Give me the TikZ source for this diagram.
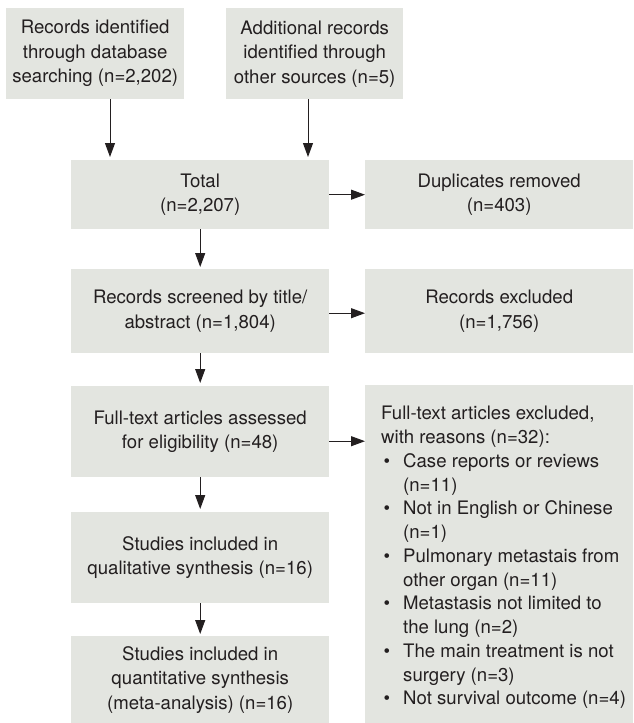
\documentclass[tikz,border=0pt]{standalone}
\usepackage{fontspec}
\setmainfont{TeX Gyre Heros}
\usetikzlibrary{arrows.meta}
\definecolor{boxfill}{HTML}{E3E5E0}
\definecolor{ink}{HTML}{231F20}
\newcommand{\pbul}{\makebox[22pt][l]{\hspace{2.5pt}\textbullet}}
\newcommand{\pind}{\hspace*{22pt}}
\begin{document}
\begin{tikzpicture}[x=1pt,y=-1pt,
  box/.style={fill=boxfill, draw=none, inner sep=0pt, align=center, text=ink,
              font=\fontsize{18.6}{24.5}\selectfont, anchor=north west},
  arr/.style={draw=ink, line width=1pt, -{Triangle[length=14pt,width=10pt]}},
]
\useasboundingbox (0,0) rectangle (633,723);
\node[box, minimum width=178pt, minimum height=91pt] (b1) at (6,8) {Records identified\\through database\\searching (n=2,202)};
\node[box, minimum width=177pt, minimum height=91pt] (b2) at (226,8) {Additional records\\identified through\\other sources (n=5)};
\node[box, minimum width=258pt, minimum height=69pt] (total) at (71,160) {Total\\(n=2,207)};
\node[box, minimum width=268pt, minimum height=69pt] (dup) at (365,160) {Duplicates removed\\(n=403)};
\node[box, minimum width=258pt, minimum height=84pt] (screen) at (71,269) {Records screened by title/\\abstract (n=1,804)};
\node[box, minimum width=268pt, minimum height=84pt] (rexcl) at (365,269) {Records excluded\\(n=1,756)};
\node[box, minimum width=258pt, minimum height=91pt] (full) at (71,386) {Full-text articles assessed\\for eligibility (n=48)};
\node[box, minimum width=268pt, minimum height=338pt] (fexcl) at (365,385) {};
\node[box, minimum width=258pt, minimum height=91pt] (qual) at (71,512) {Studies included in\\qualitative synthesis (n=16)};
\node[box, minimum width=258pt, minimum height=87pt] (quant) at (71,636) {Studies included in\\quantitative synthesis\\(meta-analysis) (n=16)};
\node[anchor=north west, inner sep=0pt, align=left, text=ink,
      font=\fontsize{18.6}{23.75}\selectfont] (fexcltext) at (381,406)
  {Full-text articles excluded,\\
   with reasons (n=32):\\
   \pbul Case reports or reviews\\
   \pind (n=11)\\
   \pbul Not in English or Chinese\\
   \pind (n=1)\\
   \pbul Pulmonary metastais from\\
   \pind other organ (n=11)\\
   \pbul Metastasis not limited to\\
   \pind the lung (n=2)\\
   \pbul The main treatment is not\\
   \pind surgery (n=3)\\
   \pbul Not survival outcome (n=4)};
\coordinate (c1) at (110,0);
\coordinate (c2) at (308,0);
\draw[arr, shorten >=3pt] (b1.south -| c1) -- (total.north -| c1);
\draw[arr, shorten >=3pt] (b2.south -| c2) -- (total.north -| c2);
\draw[arr] (total.east) -- (dup.west);
\draw[arr, shorten >=2pt] (total.south) -- (screen.north);
\draw[arr] ([yshift=-2pt]screen.east) -- ([yshift=-2pt]rexcl.west |- screen.east);
\draw[arr, shorten >=3pt] (screen.south) -- (full.north);
\draw[arr] ([yshift=-9.5pt]full.east) -- ([yshift=-9.5pt]fexcl.west |- full.east);
\draw[arr, shorten >=3pt] (full.south) -- (qual.north);
\draw[arr, shorten >=2pt] (qual.south) -- (quant.north);
\end{tikzpicture}
\end{document}
